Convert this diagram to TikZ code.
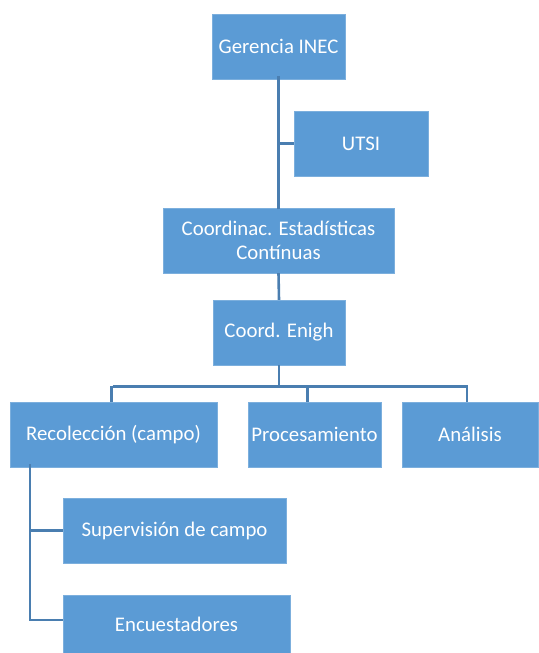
\documentclass[tikz,border=0pt]{standalone}
\usepackage{fontspec}
\setmainfont{Carlito}
\usetikzlibrary{calc}
\definecolor{boxblue}{HTML}{5B9BD5}
\definecolor{lineblue}{HTML}{4A7EB0}
\tikzset{
  orgbox/.style={draw=boxblue!80!white, fill=boxblue, text=white, inner sep=0pt,
    align=center, font=\fontsize{20.8}{24}\selectfont},
  conn/.style={draw=lineblue, line width=2.6pt}
}
\begin{document}
\begin{tikzpicture}[x=1pt,y=-1pt]
  \useasboundingbox (0,0) rectangle (538,653);
  \foreach \n/\x/\y/\w/\h/\t in {ger/278.5/46.5/133/65/Gerencia INEC, utsi/361/143.5/134/65/UTSI,
      coo/278.5/240.5/231/65/{Coordinac. Estadísticas\\Contínuas}, eni/279/332.5/132/65/Coord. Enigh,
      rec/113.5/434.5/207/65/Recolección (campo), pro/314.5/434.5/133/65/Procesamiento,
      ana/470/434.5/136/65/Análisis, sup/174.5/530.5/223/65/Supervisión de campo,
      enc/176.5/624/227/58/Encuestadores}{
    \node[orgbox, minimum width=\w pt, minimum height=\h pt](\n) at (\x,\y){\t};
  }
  % upper chain
  \draw[conn] ([yshift=3pt]ger.south) -- ([yshift=-1pt]coo.north);
  \draw[conn] (utsi.west) -- (utsi.west -| ger.south);
  \draw[conn] (coo.south) -- (eni.north);
  % bar under Coord. Enigh
  \draw[conn] (eni.south) -- ++(0,21) coordinate (bar);
  \draw[conn] ([xshift=-2pt]bar -| rec.north) -- ([xshift=-2pt]rec.north) ;
  \draw[conn] ([xshift=-1pt]bar -| rec.north) -- ([xshift=-3pt]bar -| ana.north) -- ([xshift=-3pt]ana.north);
  \draw[conn] ([xshift=-7pt]bar -| pro.north) -- ([xshift=-7pt]pro.north);
  % field branch
  \coordinate (rs) at ([xshift=20pt,yshift=3pt]rec.south west);
  \draw[conn] (rs) |- (sup.west);
  \draw[conn] (rs) |- ([yshift=4pt]enc.west);
\end{tikzpicture}
\end{document}
